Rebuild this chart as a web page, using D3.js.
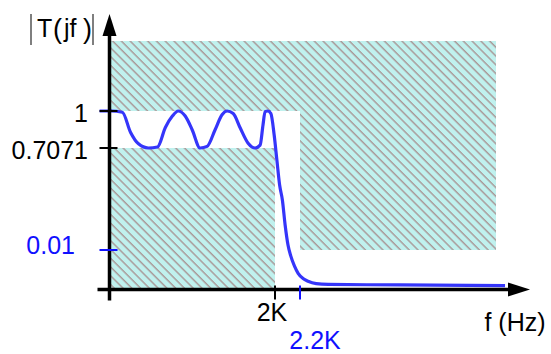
<!DOCTYPE html>
<html>
<head>
<meta charset="utf-8">
<script src="https://cdn.jsdelivr.net/npm/d3@7/dist/d3.min.js"></script>
<style>
  body { margin: 0; background: #fff; }
  svg { display: block; }
  text { font-family: "Liberation Sans", Arial, sans-serif; font-size: 25px; }
</style>
</head>
<body>
<svg id="chart" width="551" height="354"></svg>
<script>
// magnitude response (f in Hz, |T(jf)|)
var freqHz = [-120, 15, 155, 255, 350, 470, 580, 675, 760, 830, 915, 1000, 1095, 1180, 1275,
    1360, 1420, 1495, 1580, 1675, 1760, 1820, 1855, 1880, 1915, 1950, 1990, 2015, 2037, 2059,
    2081, 2104, 2126, 2156, 2185, 2240, 2307, 2415, 2576, 3515, 4920];
var gain = [1.0, 1.0, 0.99, 0.83, 0.74, 0.7071, 0.715, 0.87, 0.96, 1.0, 0.96, 0.85, 0.7071, 0.72, 0.85,
    0.97, 1.0, 0.98, 0.865, 0.745, 0.7071, 0.73, 0.89, 0.995, 1.0, 0.98, 0.81, 0.625, 0.454, 0.352,
    0.181, 0.044, 0.0085, 0.0059, 0.0041, 0.0028, 0.0021, 0.0015, 0.0013, 0.00115, 0.001];

// specification mask (forbidden zones)
var maskF0 = [0, 2200, 0];
var maskF1 = [4800, 4800, 2000];
var maskT0 = [1, 0.01, 0];
var maskT1 = [1.5, 1, 0.7071];

var yTickValues = [1, 0.7071, 0.01];
var yTickLabels = ["1", "0.7071", "0.01"];
var xTickValues = [2000, 2200];
var xTickLabels = ["2K", "2.2K"];

document.addEventListener('DOMContentLoaded', function () {
    drawChart();
});

function drawChart() {
    const svg = d3.select('#chart');
    svg.selectAll("*").remove();

    // schematic, not to scale -> piecewise scales
    let x = d3.scaleLinear().domain([0, 2000, 2200, 4800]).range([109.5, 275, 300, 496]);
    let y = d3.scaleLinear().domain([0, 0.01, 0.7071, 1, 1.5]).range([289.5, 250, 148, 111, 41]);

    const defs = svg.append('defs');
    const pat = defs.append('pattern')
        .attr('id', 'hatch')
        .attr('patternUnits', 'userSpaceOnUse')
        .attr('width', 6.2)
        .attr('height', 6.2)
        .attr('patternTransform', 'rotate(-45)');
    pat.append('rect').attr('width', 6.2).attr('height', 6.2).attr('fill', '#c0f1ee');
    pat.append('line')
        .attr('x1', 1).attr('y1', -1).attr('x2', 1).attr('y2', 8)
        .attr('stroke', '#a07676').attr('stroke-width', 1.05);

    const g = svg.append('g');

    // mask rectangles
    g.selectAll('.mask')
        .data(d3.range(maskF0.length))
        .enter()
        .append('rect')
        .attr('class', 'mask')
        .attr('x', i => x(maskF0[i]))
        .attr('y', i => y(maskT1[i]))
        .attr('width', i => x(maskF1[i]) - x(maskF0[i]))
        .attr('height', i => y(maskT0[i]) - y(maskT1[i]))
        .style('fill', 'url(#hatch)');

    // response curve
    let line = d3.line()
        .x(i => x(freqHz[i]))
        .y(i => y(gain[i]))
        .curve(d3.curveMonotoneX);
    g.append('path')
        .datum(d3.range(freqHz.length))
        .attr('d', line)
        .style('fill', 'none')
        .style('stroke', '#3535fa')
        .style('stroke-width', 3.2)
        .style('stroke-linejoin', 'round');

    // axes
    const x0 = x(0), y0 = y(0);
    g.append('line')
        .attr('x1', x0 - 12).attr('y1', y0).attr('x2', 512).attr('y2', y0)
        .style('stroke', 'black').style('stroke-width', 3.5);
    g.append('path')
        .attr('d', 'M508,' + (y0 - 7) + 'L530,' + y0 + 'L508,' + (y0 + 7) + 'Z')
        .style('fill', 'black');
    g.append('line')
        .attr('x1', x0).attr('y1', y0 + 11).attr('x2', x0).attr('y2', 32)
        .style('stroke', 'black').style('stroke-width', 3.5);
    g.append('path')
        .attr('d', 'M' + (x0 - 7) + ',36L' + x0 + ',14L' + (x0 + 7) + ',36Z')
        .style('fill', 'black');

    // y ticks
    const yColor = v => v === 0.01 ? '#1010ff' : 'black';
    g.selectAll('.ytick')
        .data(yTickValues)
        .enter()
        .append('line')
        .attr('x1', x0 - 10).attr('x2', x0 + 8)
        .attr('y1', d => y(d)).attr('y2', d => y(d))
        .style('stroke', yColor).style('stroke-width', 2);
    g.selectAll('.ylab')
        .data(yTickValues)
        .enter()
        .append('text')
        .attr('x', d => d === 0.01 ? 75 : 88)
        .attr('y', d => y(d) + (d === 0.01 ? 4 : 11))
        .attr('text-anchor', 'end')
        .style('fill', yColor)
        .text((d, i) => yTickLabels[i]);

    // x ticks
    const xColor = v => v === 2200 ? '#1010ff' : 'black';
    g.selectAll('.xtick')
        .data(xTickValues)
        .enter()
        .append('line')
        .attr('x1', d => x(d)).attr('x2', d => x(d))
        .attr('y1', y0 - 4).attr('y2', y0 + 10)
        .style('stroke', xColor).style('stroke-width', 2);
    g.selectAll('.xlab')
        .data(xTickValues)
        .enter()
        .append('text')
        .attr('x', d => d === 2200 ? x(d) + 15 : x(d) - 3)
        .attr('y', d => d === 2200 ? 349 : 321)
        .attr('text-anchor', 'middle')
        .style('fill', xColor)
        .text((d, i) => xTickLabels[i]);

    // axis titles
    g.append('text').attr('x', 515).attr('y', 331).attr('text-anchor', 'middle').text('f (Hz)');

    const t = g.append('g');
    t.append('line').attr('x1', 31).attr('x2', 31).attr('y1', 14).attr('y2', 45)
        .style('stroke', '#555').style('stroke-width', 1.5);
    t.append('line').attr('x1', 93).attr('x2', 93).attr('y1', 14).attr('y2', 45)
        .style('stroke', '#555').style('stroke-width', 1.5);
    t.append('text').attr('x', 37).attr('y', 37).text('T');
    t.append('text').attr('x', 53).attr('y', 38).style('font-size', '27px').style('font-weight', 300).text('(');
    t.append('text').attr('x', 64).attr('y', 37).text('jf');
    t.append('text').attr('x', 83).attr('y', 38).style('font-size', '27px').style('font-weight', 300).text(')');
}
</script>
</body>
</html>
